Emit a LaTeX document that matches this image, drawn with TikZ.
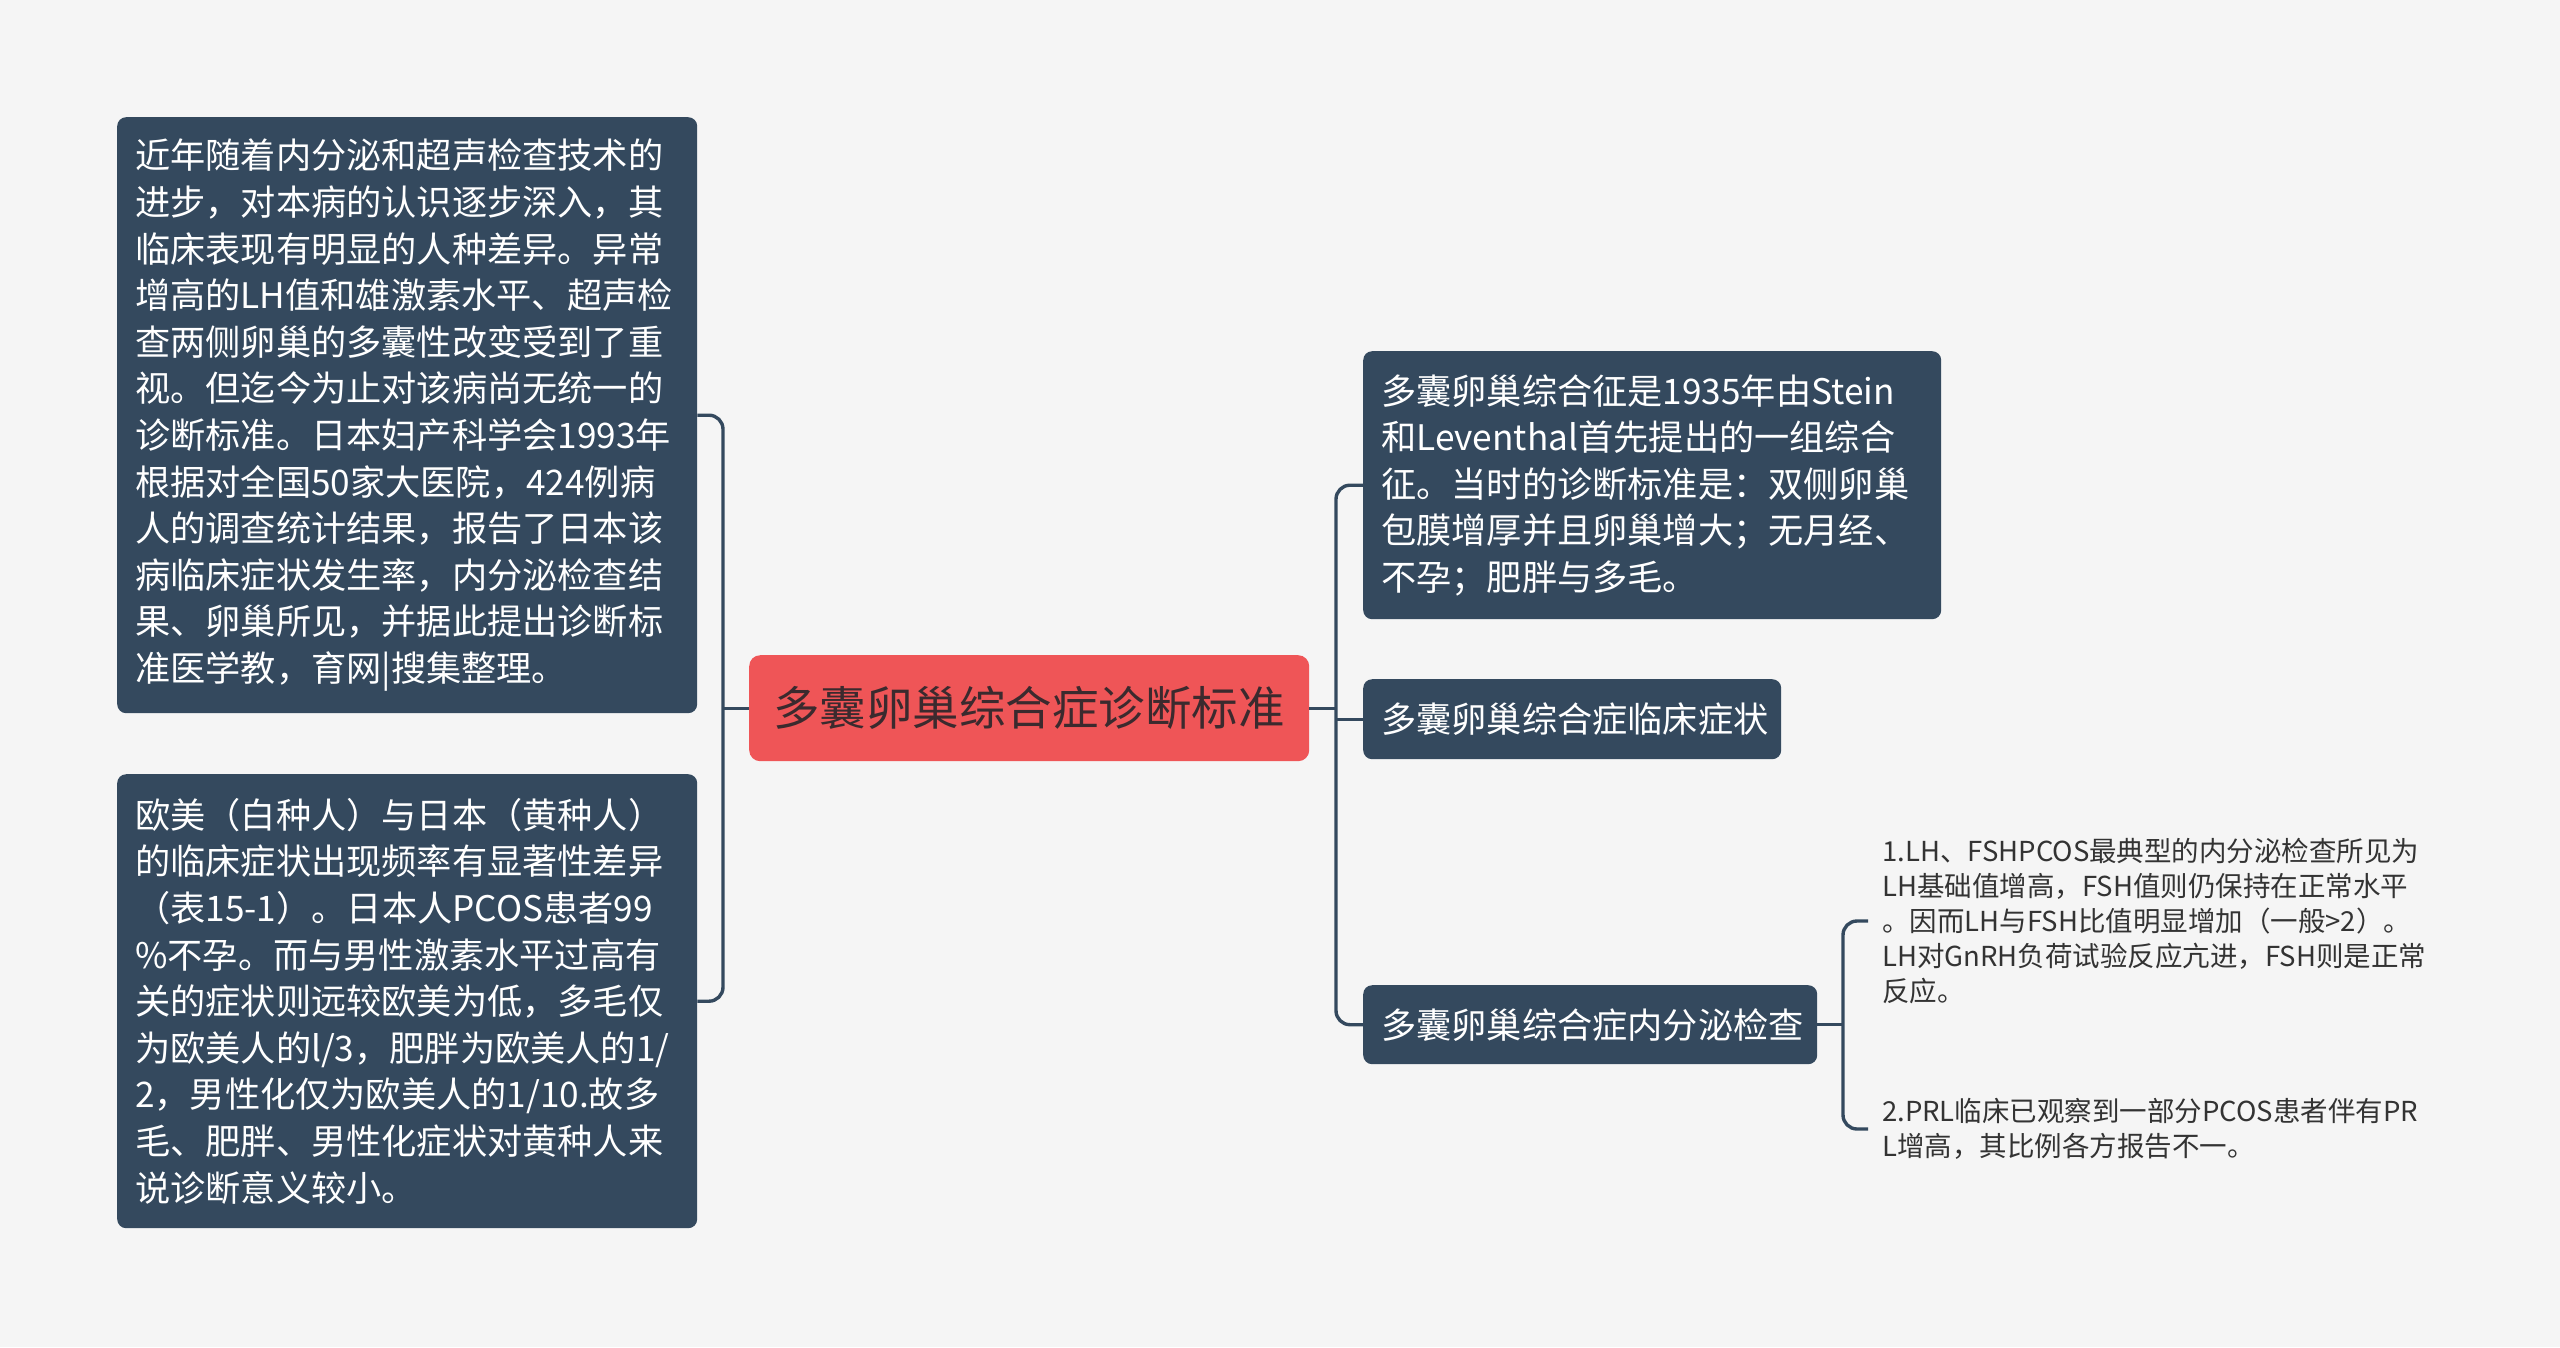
\documentclass[tikz,border=0pt]{standalone}
\usepackage{fontspec}
\newfontfamily\cjk{Noto Sans CJK SC}
\definecolor{bgcol}{HTML}{F5F5F5}
\definecolor{boxblue}{HTML}{34495E}
\definecolor{rootred}{HTML}{EF5557}
\definecolor{roottext}{HTML}{3B2A2E}
\definecolor{leaftext}{HTML}{333333}
\begin{document}
\begin{tikzpicture}[x=1pt,y=-1pt,
  box/.style={fill=boxblue, rounded corners=9pt, text=white, align=left,
    inner xsep=18pt, inner ysep=0pt, anchor=north west,
    font={\cjk\fontsize{35.2}{46.6}\selectfont}},
  rootbox/.style={fill=rootred, rounded corners=11pt, text=roottext, align=center,
    inner xsep=0pt, inner ysep=0pt, anchor=north west,
    font={\cjk\fontsize{46.5}{56}\selectfont}},
  leaf/.style={text=leaftext, align=left, inner xsep=14pt, inner ysep=0pt, anchor=west,
    font={\cjk\fontsize{27.5}{34.8}\selectfont}},
  conn/.style={draw=boxblue, line width=3.4pt}
]
\fill[bgcol] (0,0) rectangle (2560,1347);
\useasboundingbox (0,0) rectangle (2560,1347);

% root
\node[rootbox, minimum width=560pt, minimum height=106pt] (c) at (749,655) {多囊卵巢综合症诊断标准};

% left boxes
\node[box, text width=544pt, minimum height=596pt] (b1) at (117,117) {近年随着内分泌和超声检查技术的\\
进步，对本病的认识逐步深入，其\\
临床表现有明显的人种差异。异常\\
增高的LH值和雄激素水平、超声检\\
查两侧卵巢的多囊性改变受到了重\\
视。但迄今为止对该病尚无统一的\\
诊断标准。日本妇产科学会1993年\\
根据对全国50家大医院，424例病\\
人的调查统计结果，报告了日本该\\
病临床症状发生率，内分泌检查结\\
果、卵巢所见，并据此提出诊断标\\
准医学教，育网|搜集整理。};

\node[box, text width=544pt, minimum height=454pt] (b2) at (117,774) {欧美（白种人）与日本（黄种人）\\
的临床症状出现频率有显著性差异\\
（表15-1）。日本人PCOS患者99\\
\%不孕。而与男性激素水平过高有\\
关的症状则远较欧美为低，多毛仅\\
为欧美人的l/3，肥胖为欧美人的1/\\
2，男性化仅为欧美人的1/10.故多\\
毛、肥胖、男性化症状对黄种人来\\
说诊断意义较小。};

% right boxes
\node[box, text width=542pt, minimum height=268pt] (r1) at (1363,351) {多囊卵巢综合征是1935年由Stein\\
和Leventhal首先提出的一组综合\\
征。当时的诊断标准是：双侧卵巢\\
包膜增厚并且卵巢增大；无月经、\\
不孕；肥胖与多毛。};

\node[box, text width=382pt, minimum height=80pt] (r2) at (1363,679) {多囊卵巢综合症临床症状};
\node[box, text width=418pt, minimum height=79pt] (r3) at (1363,985) {多囊卵巢综合症内分泌检查};

% leaves
\node[leaf] (l1) at (1868,921) {1.LH、FSHPCOS最典型的内分泌检查所见为\\
LH基础值增高，FSH值则仍保持在正常水平\\
。因而LH与FSH比值明显增加（一般>2）。\\
LH对GnRH负荷试验反应亢进，FSH则是正常\\
反应。};
\node[leaf] (l2) at (1868,1129) {2.PRL临床已观察到一部分PCOS患者伴有PR\\
L增高，其比例各方报告不一。};

% connectors
\coordinate (lt) at (723,708);
\coordinate (rt) at (1336,708);
\coordinate (lb) at (1843,1024);

\draw[conn] (c.west) -- (c.west -| lt);
\draw[conn, rounded corners=14pt] (b1.east) -- (b1.east -| lt) -- (b2.east -| lt) -- (b2.east);

\draw[conn] (c.east) -- (c.east -| rt);
\draw[conn, rounded corners=14pt] (r1.west) -- (r1.west -| rt) -- (r3.west -| rt) -- (r3.west);
\draw[conn] (r2.west -| rt) -- (r2.west);

\draw[conn] (r3.east) -- (r3.east -| lb);
\draw[conn, rounded corners=14pt] (l1.west) -- (l1.west -| lb) -- (l2.west -| lb) -- (l2.west);
\end{tikzpicture}
\end{document}
